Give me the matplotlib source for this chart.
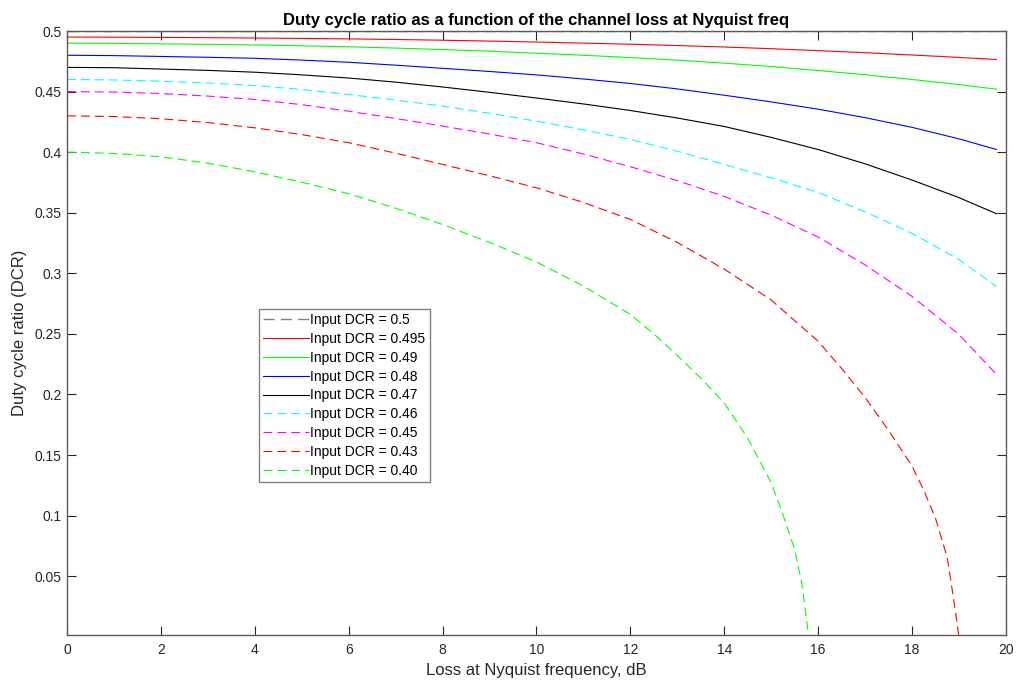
import matplotlib
matplotlib.use("Agg")
import matplotlib.pyplot as plt

plt.rcParams['font.family'] = ['Liberation Sans', 'DejaVu Sans']

# loss at Nyquist frequency (dB) and output duty cycle ratio
loss_db = [0, 1, 2, 3, 4, 5, 6, 7, 8, 9, 10, 11, 12, 13, 14, 15, 16, 17, 18, 19, 19.8]
dcr_0500 = [0.5] * len(loss_db)
dcr_0495 = [0.495, 0.4949, 0.4947, 0.4945, 0.4942, 0.4939, 0.4935, 0.4930, 0.4924, 0.4917, 0.4909,
            0.4900, 0.4891, 0.4880, 0.4868, 0.4854, 0.4838, 0.4821, 0.4802, 0.4782, 0.4765]
dcr_0490 = [0.490, 0.4898, 0.4894, 0.4890, 0.4885, 0.4878, 0.4870, 0.4859, 0.4847, 0.4833, 0.4817,
            0.4800, 0.4781, 0.4759, 0.4735, 0.4706, 0.4674, 0.4639, 0.4600, 0.4558, 0.4520]
dcr_0480 = [0.480, 0.4797, 0.4790, 0.4783, 0.4775, 0.4760, 0.4742, 0.4718, 0.4692, 0.4666, 0.4638,
            0.4604, 0.4567, 0.4522, 0.4470, 0.4415, 0.4355, 0.4285, 0.4205, 0.4110, 0.4022]
dcr_0470 = [0.470, 0.4697, 0.4686, 0.4675, 0.4660, 0.4638, 0.4612, 0.4578, 0.4538, 0.4494, 0.4447,
            0.4398, 0.4344, 0.4282, 0.4212, 0.4122, 0.4022, 0.3904, 0.3770, 0.3625, 0.3492]
dcr_0460 = [0.460, 0.4596, 0.4586, 0.4571, 0.4550, 0.4517, 0.4476, 0.4430, 0.4380, 0.4321, 0.4256,
            0.4184, 0.4105, 0.4008, 0.3899, 0.3788, 0.3668, 0.3508, 0.3330, 0.3115, 0.2890]
dcr_0450 = [0.450, 0.4496, 0.4484, 0.4463, 0.4435, 0.4392, 0.4338, 0.4278, 0.4215, 0.4150, 0.4078,
            0.3985, 0.3880, 0.3765, 0.3635, 0.3480, 0.3300, 0.3070, 0.2810, 0.2496, 0.2166]

loss_db_043 = [0, 1, 2, 3, 4, 5, 6, 7, 8, 9, 10, 11, 12, 13, 14, 15, 16, 16.5, 17, 17.5, 18,
               18.25, 18.5, 18.75, 18.84, 18.95, 19.0]
dcr_0430 = [0.430, 0.4294, 0.4276, 0.4244, 0.4201, 0.4145, 0.4078, 0.3992, 0.3899, 0.3805, 0.3706,
            0.3585, 0.3445, 0.3255, 0.3035, 0.2780, 0.2440, 0.2215, 0.1976, 0.1705, 0.1410,
            0.1210, 0.0980, 0.0656, 0.0433, 0.0144, 0.0]

loss_db_040 = [0, 1, 2, 3, 4, 5, 6, 7, 8, 9, 10, 11, 12, 12.5, 13, 13.5, 14, 14.5, 15,
               15.25, 15.5, 15.65, 15.8]
dcr_0400 = [0.400, 0.3990, 0.3962, 0.3909, 0.3838, 0.3752, 0.3657, 0.3538, 0.3403, 0.3255, 0.3094,
            0.2895, 0.2661, 0.2500, 0.2323, 0.2135, 0.1930, 0.1640, 0.1272, 0.1010, 0.0722,
            0.0450, 0.0]

labels = ["Input DCR = 0.5", "Input DCR = 0.495", "Input DCR = 0.49", "Input DCR = 0.48",
          "Input DCR = 0.47", "Input DCR = 0.46", "Input DCR = 0.45", "Input DCR = 0.43",
          "Input DCR = 0.40"]

x_ticks = [0, 2, 4, 6, 8, 10, 12, 14, 16, 18, 20]
y_ticks = [0.05, 0.1, 0.15, 0.2, 0.25, 0.3, 0.35, 0.4, 0.45, 0.5]
y_ticklabels = ["0.05", "0.1", "0.15", "0.2", "0.25", "0.3", "0.35", "0.4", "0.45", "0.5"]

fig = plt.figure(figsize=(10.16, 6.83), dpi=100)
ax = fig.add_axes([0.066, 0.0703, 0.924, 0.8843])

dash = (8, 4.5)
lw = 0.8
ax.plot(loss_db, dcr_0500, color='#808080', lw=1.0, dashes=dash, label=labels[0])
ax.plot(loss_db, dcr_0495, color='red', lw=lw, label=labels[1])
ax.plot(loss_db, dcr_0490, color='#00ff00', lw=lw, label=labels[2])
ax.plot(loss_db, dcr_0480, color='blue', lw=lw, label=labels[3])
ax.plot(loss_db, dcr_0470, color='black', lw=lw, label=labels[4])
ax.plot(loss_db, dcr_0460, color='cyan', lw=lw, dashes=dash, label=labels[5])
ax.plot(loss_db, dcr_0450, color='magenta', lw=lw, dashes=dash, label=labels[6])
ax.plot(loss_db_043, dcr_0430, color='red', lw=lw, dashes=dash, label=labels[7])
ax.plot(loss_db_040, dcr_0400, color='#00ff00', lw=lw, dashes=dash, label=labels[8])

ax.set_xlim(0, 20)
ax.set_ylim(0.0015, 0.5)
ax.set_xticks(x_ticks)
ax.set_yticks(y_ticks)
ax.set_yticklabels(y_ticklabels)

axis_col = '#262626'
for s in ax.spines.values():
    s.set_color('#5a5a5a')
    s.set_linewidth(1.0)
ax.tick_params(direction='in', length=6.5, width=0.8, color=axis_col,
               top=True, right=True, labelsize=10, labelcolor=axis_col)
ax.tick_params(axis='x', pad=6)
ax.tick_params(axis='y', pad=4)

ax.set_xlabel("Loss at Nyquist frequency, dB", fontsize=12, color=axis_col, labelpad=4)
ax.set_ylabel("Duty cycle ratio (DCR)", fontsize=12, color=axis_col, labelpad=5)
ax.set_title("Duty cycle ratio as a function of the channel loss at Nyquist freq",
             fontsize=12, fontweight='bold', color='black', pad=4)

leg = ax.legend(loc='upper left', bbox_to_anchor=(0.2045, 0.54), borderaxespad=0,
                fontsize=10, fancybox=False, framealpha=1, edgecolor='#808080',
                handlelength=3.3, handletextpad=0.1, labelspacing=0.35,
                borderpad=0.3)
leg.get_frame().set_linewidth(1.0)

fig.savefig("out.png", dpi=100)
